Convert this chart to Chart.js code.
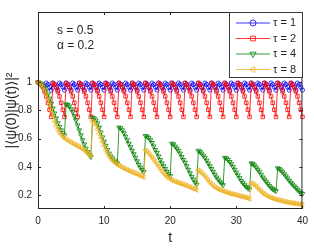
<!DOCTYPE html>
<html>
<head>
<meta charset="utf-8">
<script src="https://cdn.jsdelivr.net/npm/chart.js@4.4.0/dist/chart.umd.min.js"></script>
<style>
  html, body { margin: 0; padding: 0; background: #fff; }
</style>
</head>
<body>
<canvas id="grafico" width="314" height="252"></canvas>
<script>
// muestreo temporal (paso 0.25)
const tiempos = Array.from({ length: 161 }, (_, i) => i * 0.25);
const ticksX = [0, 10, 20, 30, 40];
const ticksY = [0.2, 0.4, 0.6, 0.8, 1];
const etiquetas = ["\u03C4 = 1", "\u03C4 = 2", "\u03C4 = 4", "\u03C4 = 8"];
const notas = ["s = 0.5", "\u03B1 = 0.2"];

const tau1 = [1,
  0.995, 0.985, 0.967, 0.945, 0.995, 0.985, 0.967, 0.945, 0.995, 0.985, 0.967, 0.945, 0.995, 0.985, 0.967, 0.945,
  0.995, 0.985, 0.967, 0.945, 0.995, 0.985, 0.967, 0.945, 0.995, 0.985, 0.967, 0.945, 0.995, 0.985, 0.967, 0.945,
  0.995, 0.985, 0.967, 0.945, 0.995, 0.985, 0.967, 0.945, 0.995, 0.985, 0.967, 0.945, 0.995, 0.985, 0.967, 0.945,
  0.995, 0.985, 0.967, 0.945, 0.995, 0.985, 0.967, 0.945, 0.995, 0.985, 0.967, 0.945, 0.995, 0.985, 0.967, 0.945,
  0.995, 0.985, 0.967, 0.945, 0.995, 0.985, 0.967, 0.945, 0.995, 0.985, 0.967, 0.945, 0.995, 0.985, 0.967, 0.945,
  0.995, 0.985, 0.967, 0.945, 0.995, 0.985, 0.967, 0.945, 0.995, 0.985, 0.967, 0.945, 0.995, 0.985, 0.967, 0.945,
  0.995, 0.985, 0.967, 0.945, 0.995, 0.985, 0.967, 0.945, 0.995, 0.985, 0.967, 0.945, 0.995, 0.985, 0.967, 0.945,
  0.995, 0.985, 0.967, 0.945, 0.995, 0.985, 0.967, 0.945, 0.995, 0.985, 0.967, 0.945, 0.995, 0.985, 0.967, 0.945,
  0.995, 0.985, 0.967, 0.945, 0.995, 0.985, 0.967, 0.945, 0.995, 0.985, 0.967, 0.945, 0.995, 0.985, 0.967, 0.945,
  0.995, 0.985, 0.967, 0.945, 0.995, 0.985, 0.967, 0.945, 0.995, 0.985, 0.967, 0.945, 0.995, 0.985, 0.967, 0.945
];

const tau2 = [1,
  0.995, 0.985, 0.965, 0.935, 0.9, 0.855, 0.805, 0.755, 0.995, 0.985, 0.965, 0.935, 0.9, 0.855, 0.805, 0.755,
  0.995, 0.985, 0.965, 0.935, 0.9, 0.855, 0.805, 0.755, 0.995, 0.985, 0.965, 0.935, 0.9, 0.855, 0.805, 0.755,
  0.995, 0.985, 0.965, 0.935, 0.9, 0.855, 0.805, 0.755, 0.995, 0.985, 0.965, 0.935, 0.9, 0.855, 0.805, 0.755,
  0.995, 0.985, 0.965, 0.935, 0.9, 0.855, 0.805, 0.755, 0.995, 0.985, 0.965, 0.935, 0.9, 0.855, 0.805, 0.755,
  0.995, 0.985, 0.965, 0.935, 0.9, 0.855, 0.805, 0.755, 0.995, 0.985, 0.965, 0.935, 0.9, 0.855, 0.805, 0.755,
  0.995, 0.985, 0.965, 0.935, 0.9, 0.855, 0.805, 0.755, 0.995, 0.985, 0.965, 0.935, 0.9, 0.855, 0.805, 0.755,
  0.995, 0.985, 0.965, 0.935, 0.9, 0.855, 0.805, 0.755, 0.995, 0.985, 0.965, 0.935, 0.9, 0.855, 0.805, 0.755,
  0.995, 0.985, 0.965, 0.935, 0.9, 0.855, 0.805, 0.755, 0.995, 0.985, 0.965, 0.935, 0.9, 0.855, 0.805, 0.755,
  0.995, 0.985, 0.965, 0.935, 0.9, 0.855, 0.805, 0.755, 0.995, 0.985, 0.965, 0.935, 0.9, 0.855, 0.805, 0.755,
  0.995, 0.985, 0.965, 0.935, 0.9, 0.855, 0.805, 0.755, 0.995, 0.985, 0.965, 0.935, 0.9, 0.855, 0.805, 0.755
];

const tau4 = [1,
  0.997, 0.99, 0.978, 0.96, 0.94, 0.915, 0.885, 0.85, 0.815, 0.78, 0.745, 0.71, 0.685, 0.66, 0.64, 0.625,
  0.845, 0.84, 0.83, 0.81, 0.79, 0.76, 0.73, 0.695, 0.66, 0.625, 0.59, 0.56, 0.53, 0.505, 0.485, 0.47,
  0.75, 0.745, 0.73, 0.71, 0.68, 0.645, 0.61, 0.58, 0.55, 0.52, 0.495, 0.475, 0.46, 0.445, 0.435, 0.425,
  0.68, 0.675, 0.66, 0.64, 0.615, 0.59, 0.565, 0.54, 0.515, 0.49, 0.465, 0.44, 0.415, 0.395, 0.378, 0.365,
  0.62, 0.615, 0.605, 0.59, 0.57, 0.545, 0.52, 0.5, 0.475, 0.45, 0.425, 0.405, 0.385, 0.365, 0.348, 0.335,
  0.565, 0.56, 0.545, 0.53, 0.515, 0.495, 0.47, 0.45, 0.43, 0.405, 0.38, 0.355, 0.33, 0.31, 0.29, 0.275,
  0.515, 0.508, 0.495, 0.48, 0.465, 0.445, 0.425, 0.405, 0.385, 0.365, 0.345, 0.325, 0.31, 0.295, 0.282, 0.27,
  0.465, 0.46, 0.45, 0.435, 0.42, 0.4, 0.38, 0.36, 0.34, 0.32, 0.3, 0.285, 0.27, 0.258, 0.248, 0.24,
  0.425, 0.42, 0.41, 0.395, 0.38, 0.365, 0.345, 0.325, 0.31, 0.295, 0.28, 0.265, 0.252, 0.242, 0.234, 0.228,
  0.39, 0.385, 0.375, 0.362, 0.348, 0.333, 0.318, 0.302, 0.288, 0.275, 0.262, 0.25, 0.238, 0.226, 0.215, 0.207
];

const tau8 = [1,
  0.995, 0.985, 0.965, 0.945, 0.915, 0.88, 0.84, 0.8, 0.76, 0.72, 0.69, 0.665, 0.645, 0.63, 0.615, 0.605,
  0.595, 0.587, 0.58, 0.573, 0.566, 0.56, 0.554, 0.548, 0.541, 0.534, 0.526, 0.518, 0.508, 0.497, 0.486, 0.475,
  0.725, 0.715, 0.695, 0.665, 0.635, 0.605, 0.576, 0.547, 0.518, 0.495, 0.476, 0.46, 0.447, 0.436, 0.426, 0.417,
  0.409, 0.402, 0.395, 0.389, 0.383, 0.378, 0.372, 0.367, 0.362, 0.357, 0.352, 0.347, 0.342, 0.337, 0.331, 0.325,
  0.518, 0.51, 0.497, 0.482, 0.468, 0.453, 0.437, 0.42, 0.403, 0.386, 0.369, 0.354, 0.342, 0.331, 0.321, 0.313,
  0.306, 0.3, 0.295, 0.29, 0.286, 0.282, 0.278, 0.274, 0.27, 0.265, 0.26, 0.255, 0.25, 0.245, 0.24, 0.235,
  0.376, 0.368, 0.358, 0.346, 0.334, 0.32, 0.305, 0.29, 0.277, 0.266, 0.256, 0.248, 0.242, 0.237, 0.232, 0.227,
  0.223, 0.219, 0.215, 0.211, 0.208, 0.205, 0.202, 0.199, 0.196, 0.193, 0.19, 0.187, 0.184, 0.18, 0.176, 0.172,
  0.283, 0.28, 0.272, 0.262, 0.25, 0.238, 0.226, 0.215, 0.206, 0.198, 0.191, 0.185, 0.18, 0.176, 0.172, 0.168,
  0.165, 0.162, 0.159, 0.156, 0.153, 0.151, 0.148, 0.146, 0.144, 0.142, 0.14, 0.138, 0.136, 0.134, 0.132, 0.13
];

const colores = ["#0000FF", "#FF0000", "#008000", "#EDB120"];
const marcas = [
  { estilo: "circle", radio: 2.1, giro: 0 },
  { estilo: "rect", radio: 2.5, giro: 0 },
  { estilo: "triangle", radio: 2.7, giro: 180 },
  { estilo: "triangle", radio: 2.7, giro: 270 }
];
const series = [tau1, tau2, tau4, tau8];

const FUENTE = "'Liberation Sans', Arial, Helvetica, sans-serif";
const GRIS = "#262626";

function armarDataset(valores, i) {
  return {
    label: etiquetas[i],
    data: valores.map((v, k) => ({ x: tiempos[k], y: v })),
    borderColor: colores[i],
    borderWidth: 0.8,
    pointStyle: marcas[i].estilo,
    pointRadius: marcas[i].radio,
    pointRotation: marcas[i].giro,
    pointBorderColor: colores[i],
    pointBackgroundColor: "rgba(0,0,0,0)",
    pointBorderWidth: 0.8,
    tension: 0,
    clip: false,
    order: 3 - i
  };
}

const ejes = {
  id: "ejes",
  afterDatasetsDraw(chart) {
    const { ctx, chartArea: a, scales } = chart;
    ctx.save();
    ctx.strokeStyle = GRIS;
    ctx.lineWidth = 1;
    ctx.strokeRect(a.left + 0.5, a.top + 0.5, a.right - a.left - 1, a.bottom - a.top - 1);
    ctx.beginPath();
    ticksX.forEach(v => {
      const px = Math.round(scales.x.getPixelForValue(v)) + 0.5;
      ctx.moveTo(px, a.bottom); ctx.lineTo(px, a.bottom - 3);
      ctx.moveTo(px, a.top); ctx.lineTo(px, a.top + 3);
    });
    ticksY.forEach(v => {
      const py = Math.round(scales.y.getPixelForValue(v)) + 0.5;
      ctx.moveTo(a.left, py); ctx.lineTo(a.left + 3, py);
      ctx.moveTo(a.right, py); ctx.lineTo(a.right - 3, py);
    });
    ctx.stroke();
    ctx.restore();
  },
  afterDraw(chart) {
    const { ctx, chartArea: a } = chart;
    ctx.save();
    ctx.fillStyle = GRIS;

    // titulos de ejes
    ctx.font = "14px " + FUENTE;
    ctx.textAlign = "center";
    ctx.textBaseline = "middle";
    ctx.fillText("t", (a.left + a.right) / 2, 238);
    ctx.save();
    ctx.translate(12, (a.top + a.bottom) / 2);
    ctx.rotate(-Math.PI / 2);
    ctx.fillText("|\u27E8\u03C8(0)|\u03C8(t)\u27E9|\u00B2", 0, 0);
    ctx.restore();

    // anotaciones
    ctx.font = "12px " + FUENTE;
    ctx.textAlign = "left";
    ctx.fillText(notas[0], 57, 31);
    ctx.fillText(notas[1], 57, 46);

    // leyenda
    const caja = { x: 229, y: 12, w: 73, h: 65 };
    ctx.fillStyle = "#fff";
    ctx.fillRect(caja.x, caja.y, caja.w, caja.h);
    ctx.strokeStyle = "#3a3a3a";
    ctx.lineWidth = 1;
    ctx.strokeRect(caja.x + 0.5, caja.y + 0.5, caja.w, caja.h);
    ctx.font = "11px " + FUENTE;
    etiquetas.forEach((txt, i) => {
      const y = 23 + i * 15.5;
      ctx.strokeStyle = colores[i];
      ctx.lineWidth = 0.8;
      ctx.beginPath();
      ctx.moveTo(236, y); ctx.lineTo(270, y);
      ctx.stroke();
      ctx.fillStyle = "rgba(0,0,0,0)";
      Chart.helpers.drawPoint(ctx, {
        pointStyle: marcas[i].estilo,
        radius: marcas[i].radio + 0.9,
        rotation: marcas[i].giro,
        borderWidth: 0.8
      }, 253, y);
      ctx.fillStyle = GRIS;
      ctx.fillText(txt, 273, y);
    });
    ctx.restore();
  }
};

const ctx = document.getElementById("grafico").getContext("2d");

new Chart(ctx, {
  type: "line",
  data: { datasets: series.map(armarDataset) },
  options: {
    responsive: false,
    animation: false,
    events: [],
    layout: { padding: { top: 10, right: 10, left: 0, bottom: 0 } },
    plugins: { legend: { display: false }, tooltip: { enabled: false } },
    scales: {
      x: {
        type: "linear",
        min: 0,
        max: 40,
        grid: { display: false, drawTicks: false },
        border: { display: false },
        afterBuildTicks: s => { s.ticks = ticksX.map(v => ({ value: v })); },
        afterFit: s => { s.height = 43; },
        ticks: { color: GRIS, padding: 6, font: { size: 10, family: FUENTE }, callback: v => String(v) }
      },
      y: {
        type: "linear",
        min: 0.1,
        max: 1.5,
        grid: { display: false, drawTicks: false },
        border: { display: false },
        afterBuildTicks: s => { s.ticks = ticksY.map(v => ({ value: v })); },
        afterFit: s => { s.width = 38; },
        ticks: { color: GRIS, padding: 6, font: { size: 10, family: FUENTE }, callback: v => String(+v.toFixed(1)) }
      }
    }
  },
  plugins: [ejes]
});
</script>
</body>
</html>
